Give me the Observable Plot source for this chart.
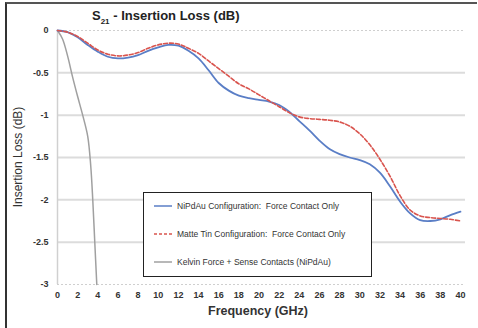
<!DOCTYPE html>
<html><head><meta charset="utf-8">
<script src="https://cdn.jsdelivr.net/npm/d3@7"></script>
<script src="https://cdn.jsdelivr.net/npm/@observablehq/plot@0.6"></script>
<style>
body{margin:0;background:#fff;font-family:"Liberation Sans",Arial,sans-serif;}
#wrap{position:relative;width:478px;height:328px;overflow:hidden;}
#frame{position:absolute;left:5px;top:2px;width:472px;height:330px;border-left:2px solid #333;border-top:2px solid #555;box-sizing:border-box;}
#title{position:absolute;left:92px;top:8px;font-weight:bold;font-size:13px;color:#222;}
#title sub{font-size:8px;}
#ylab{position:absolute;left:18px;top:157px;transform:translate(-50%,-50%) rotate(-90deg);font-size:12px;color:#333;white-space:nowrap;}
#xlab{position:absolute;left:258px;top:304px;transform:translateX(-50%);font-size:12.5px;font-weight:bold;color:#333;white-space:nowrap;}
#legend{position:absolute;left:143px;top:192px;width:229px;height:85px;border:1.5px solid #222;background:#fff;box-sizing:border-box;font-size:8.5px;color:#333;}
.row{position:absolute;left:10px;display:flex;align-items:center;white-space:pre;}
.row svg{margin-right:5px;}
svg.plot{position:absolute;left:0;top:0;}
</style></head>
<body>
<div id="wrap">
<div id="chart"></div>
<div id="frame"></div>
<div id="title">S<sub>21</sub> - Insertion Loss (dB)</div>
<div id="ylab">Insertion Loss (dB)</div>
<div id="xlab">Frequency (GHz)</div>
<div id="legend"></div>
</div>
<script>
const freq = [0,1,2,3,4,5,6,7,8,9,10,11,12,13,14,15,16,17,18,19,20,21,22,23,24,25,26,27,28,29,30,31,32,33,34,35,36,37,38,39,40];
const nipdau = [0,-0.02,-0.08,-0.17,-0.25,-0.31,-0.33,-0.32,-0.29,-0.24,-0.2,-0.17,-0.18,-0.24,-0.33,-0.47,-0.62,-0.71,-0.77,-0.8,-0.82,-0.84,-0.88,-0.96,-1.07,-1.18,-1.3,-1.4,-1.46,-1.5,-1.53,-1.58,-1.68,-1.84,-2.02,-2.16,-2.24,-2.25,-2.23,-2.18,-2.14];
const matteTin = [0,-0.02,-0.07,-0.15,-0.23,-0.28,-0.3,-0.29,-0.26,-0.21,-0.17,-0.15,-0.16,-0.21,-0.27,-0.36,-0.45,-0.54,-0.63,-0.69,-0.76,-0.83,-0.9,-0.97,-1.02,-1.04,-1.05,-1.06,-1.08,-1.13,-1.22,-1.35,-1.52,-1.72,-1.95,-2.12,-2.19,-2.21,-2.22,-2.23,-2.25];
const kelvinFreq = [0,0.5,1,1.5,2,2.5,3,3.3,3.5,3.7,3.9];
const kelvin = [0,-0.1,-0.3,-0.55,-0.78,-1.0,-1.25,-1.6,-2.0,-2.5,-3.0];
const xTicks = d3.range(0,41,2);
const yTicks = [0,-0.5,-1,-1.5,-2,-2.5,-3];
const seriesNames = ["NiPdAu Configuration:  Force Contact Only","Matte Tin Configuration:  Force Contact Only","Kelvin Force + Sense Contacts (NiPdAu)"];
const colors = ["#5a7ec6","#d9544e","#a0a0a0"];

const blue = freq.map((f,i)=>({f,v:nipdau[i]}));
const red = freq.map((f,i)=>({f,v:matteTin[i]}));
const gray = kelvinFreq.map((f,i)=>({f,v:kelvin[i]}));

const plot = Plot.plot({
  width:478, height:328,
  marginLeft:57, marginRight:13, marginTop:30, marginBottom:44,
  x:{domain:[0,40], range:[57,460], label:null},
  y:{domain:[-3,0], range:[284,30], label:null},
  style:{fontFamily:"Liberation Sans, Arial, sans-serif", fontSize:"9px", fontWeight:"bold", color:"#333", background:"transparent"},
  marks:[
    Plot.ruleY(yTicks.filter(d=>d!==0 && d!==-3),{stroke:"#dcdcdc",strokeWidth:2,strokeOpacity:1}),
    Plot.ruleY([0,-3],{stroke:"#cfcfcf",strokeWidth:1.2,strokeDasharray:"2,2"}),
    Plot.ruleX([0],{stroke:"#d0d0d0",strokeWidth:1.5}),
    Plot.axisX({ticks:xTicks, tickFormat:d=>String(d), tickSize:0, tickPadding:7, fontWeight:"bold", fontSize:9, fill:"#333", label:null}),
    Plot.axisY({ticks:yTicks, tickFormat:d=>String(d), tickSize:0, tickPadding:9, fontWeight:"bold", fontSize:9, fill:"#333", label:null}),
    Plot.line(gray,{x:"f",y:"v",stroke:colors[2],strokeWidth:1.5,curve:"catmull-rom"}),
    Plot.line(blue,{x:"f",y:"v",stroke:colors[0],strokeWidth:1.8,curve:"catmull-rom"}),
    Plot.line(red,{x:"f",y:"v",stroke:colors[1],strokeWidth:1.6,strokeDasharray:"4,2",curve:"catmull-rom"})
  ]
});
document.getElementById("chart").appendChild(plot);

const leg = document.getElementById("legend");
const dashes = [null,"3,2",null];
seriesNames.forEach((name,i)=>{
  const row = document.createElement("div");
  row.className="row";
  row.style.top = (8 + i*28) + "px";
  row.innerHTML = `<svg width="18" height="6"><line x1="0" y1="3" x2="18" y2="3" stroke="${colors[i]}" stroke-width="1.5" ${dashes[i]?`stroke-dasharray="${dashes[i]}"`:""}/></svg><span>${name}</span>`;
  leg.appendChild(row);
});
</script>
</body></html>
